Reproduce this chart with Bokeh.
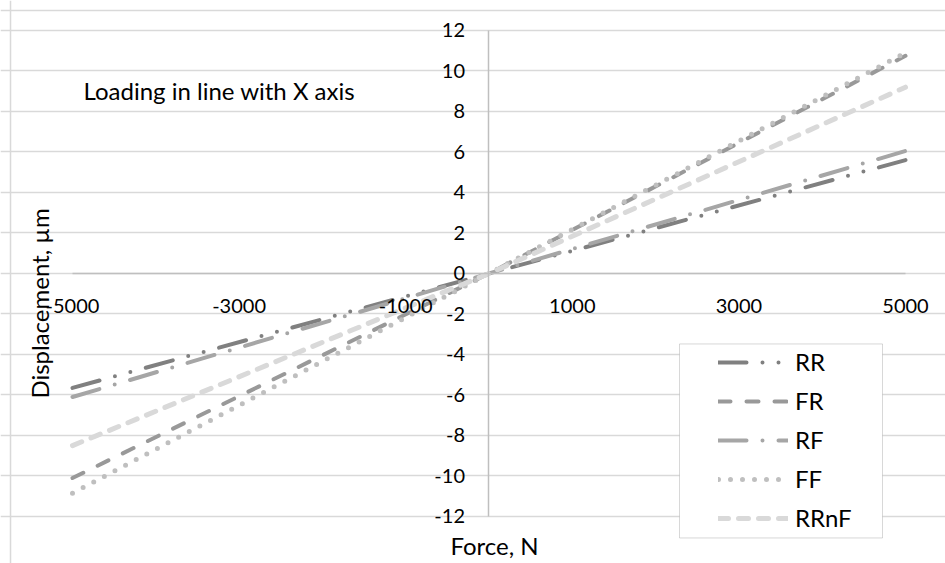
import math
from bokeh.plotting import figure
from bokeh.models import (Range1d, LinearAxis, FixedTicker, Span, Label, Legend,
                          LegendItem, BoxAnnotation)
from bokeh.embed import file_html
from bokeh.resources import INLINE

# ---- data ----
force = [-5000, 0, 5000]
series_names = ["RR", "FR", "RF", "FF", "RRnF"]
RR = [-5.65, 0.0, 5.6]
FR = [-10.1, 0.0, 10.75]
RF = [-6.1, 0.0, 6.05]
FF = [-10.85, 0.0, 10.9]
RRnF = [-8.5, 0.0, 9.2]
x_ticks = [-5000, -3000, -1000, 1000, 3000, 5000]
x_tick_labels = ["-5000", "-3000", "-1000", "1000", "3000", "5000"]
y_ticks = [-12, -10, -8, -6, -4, -2, 0, 2, 4, 6, 8, 10, 12]
y_tick_labels = ["-12", "-10", "-8", "-6", "-4", "-2", "0", "2", "4", "6", "8", "10", "12"]

FONT = "Lato"
TICK_FS = "20px"
TEXT_FS = "24px"

p = figure(width=945, height=563, output_backend="svg", toolbar_location=None,
           x_range=Range1d(-5864.3, 5480.2), y_range=Range1d(-14.321, 13.481),
           x_axis_location=None, y_axis_location=None, min_border=0)
p.outline_line_color = None
p.background_fill_color = "white"
p.border_fill_color = "white"

# horizontal gridlines
p.xgrid.visible = False
p.ygrid.ticker = FixedTicker(ticks=y_ticks)
p.ygrid.grid_line_color = "#d9d9d9"
p.ygrid.grid_line_width = 1.3
p.ygrid.bounds = (-5000, 5000)

# axes crossing at zero
xax = LinearAxis(fixed_location=0, ticker=FixedTicker(ticks=x_ticks), bounds=(-5000, 5000))
xax.major_label_overrides = dict(zip(x_ticks, x_tick_labels))
yax = LinearAxis(fixed_location=0, ticker=FixedTicker(ticks=y_ticks), bounds=(-12, 12))
yax.major_label_overrides = dict(zip(y_ticks, y_tick_labels))
for ax, st in ((xax, 26), (yax, 24)):
    ax.axis_line_color = "#bfbfbf"
    ax.axis_line_width = 1.5
    ax.major_tick_line_color = None
    ax.minor_tick_line_color = None
    ax.major_tick_out = 0
    ax.major_tick_in = 0
    ax.major_label_standoff = st
    ax.major_label_text_font = FONT
    ax.major_label_text_font_size = TICK_FS
    ax.major_label_text_color = "#000000"
p.add_layout(xax, "below")
p.add_layout(yax, "left")

# outer chart border (left and top edges visible)
p.add_layout(Span(location=-5744, dimension="height", line_color="#d9d9d9", line_width=1.5))
p.add_layout(Span(location=12.987, dimension="width", line_color="#d9d9d9", line_width=1.5))

styles = {
    "RR":   dict(color="#808080", width=4, dash="28 16 0 16 0 16"),
    "FR":   dict(color="#999999", width=4, dash="12 16"),
    "RF":   dict(color="#a6a6a6", width=4, dash="28 16 0 16"),
    "FF":   dict(color="#bfbfbf", width=5, dash="0 12"),
    "RRnF": dict(color="#d9d9d9", width=5, dash="10 10"),
}
data = {"RR": RR, "FR": FR, "RF": RF, "FF": FF, "RRnF": RRnF}

items = []
for name in series_names:
    s = styles[name]
    r = p.line(force, data[name], line_color=s["color"], line_width=s["width"],
               line_dash=s["dash"], line_cap="round")
    items.append(LegendItem(label=name, renderers=[r]))

# legend box
p.add_layout(BoxAnnotation(left=2287, right=4724, top=-3.48, bottom=-13.06,
                           fill_color="white", fill_alpha=1.0,
                           line_color="#7f7f7f", line_width=1, level="annotation"))

legend = Legend(items=items, location=(718, 31), padding=0, spacing=10,
                label_height=20, glyph_height=20, glyph_width=70, label_standoff=7,
                border_line_color=None, background_fill_alpha=0,
                label_text_font=FONT, label_text_font_size=TEXT_FS, label_text_color="#000000")
p.add_layout(legend, "center")

# texts
p.add_layout(Label(x=-4868, y=9.03, text="Loading in line with X axis",
                   text_font=FONT, text_font_size=TEXT_FS, text_baseline="alphabetic",
                   text_color="#000000"))
p.add_layout(Label(x=66, y=-13.43, text="Force, N", text_align="center",
                   text_font=FONT, text_font_size=TEXT_FS, text_baseline="alphabetic",
                   text_color="#000000"))
p.add_layout(Label(x=-5396, y=-1.48, text="Displacement, µm", angle=math.pi / 2,
                   text_align="center", text_baseline="alphabetic",
                   text_font=FONT, text_font_size=TEXT_FS, text_color="#000000"))

open("out.html", "w").write(file_html(p, INLINE))
